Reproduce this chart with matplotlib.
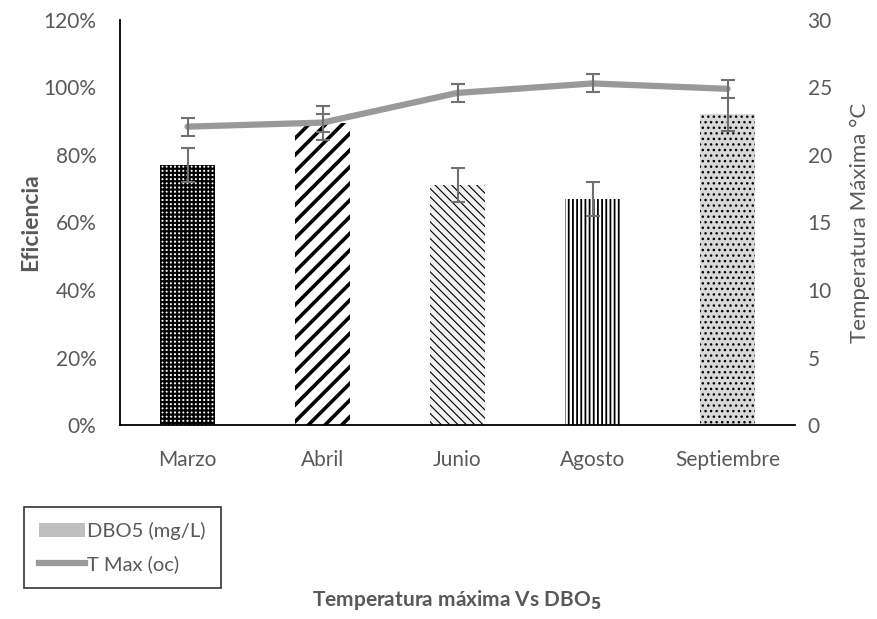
import numpy as np
import matplotlib
matplotlib.use("Agg")
import matplotlib.pyplot as plt
from matplotlib.patches import Patch
from matplotlib.lines import Line2D

meses = ["Marzo", "Abril", "Junio", "Agosto", "Septiembre"]
eficiencia = [77, 89.5, 71, 67, 92]          # %
err_eficiencia = [5, 5, 5, 5, 5]
t_max = [22.1, 22.4, 24.6, 25.3, 24.9]      # grados C
err_t_max = [0.67, 0.67, 0.67, 0.67, 0.67]

hatches = ["++++", "//", "\\\\\\\\", "||||", "..."]
faces = ["white", "white", "#f2f2f2", "white", "#d9d9d9"]
hatch_lw = [1.6, 2.6, 0.8, 1.3, 1.0]

plt.rcParams['font.family'] = ['Lato', 'DejaVu Sans']
gris = "#595959"

fig = plt.figure(figsize=(8.78, 6.19), dpi=100)
ax = fig.add_axes([0.1367, 0.3134, 0.9055 - 0.1367, 0.9677 - 0.3134])
x = np.arange(len(meses))

for i in range(len(meses)):
    b = ax.bar(x[i], eficiencia[i], width=0.41, color=faces[i], hatch=hatches[i],
               edgecolor="black", linewidth=0, zorder=2)
    for p in b:
        p.set_hatch_linewidth(hatch_lw[i])
ax.errorbar(x, eficiencia, yerr=err_eficiencia, fmt="none", ecolor="#707070",
            elinewidth=1.5, capsize=5, capthick=1.5, zorder=3)

ax.set_xlim(-0.5, 4.5)
ax.set_ylim(0, 120)
ax.set_yticks(np.arange(0, 121, 20))
ax.set_yticklabels([f"{v}%" for v in range(0, 121, 20)])
ax.set_xticks(x)
ax.set_xticklabels(meses)
ax.tick_params(axis="x", length=0, labelsize=15, colors=gris, pad=18)
ax.tick_params(axis="y", length=0, labelsize=15, colors=gris, pad=17)
ax.spines["top"].set_visible(False)
ax.spines["right"].set_visible(False)
ax.spines["left"].set_linewidth(1.3)
ax.spines["bottom"].set_linewidth(1.3)
ax.set_ylabel("Eficiencia", fontsize=16.5, fontweight="bold", color=gris, labelpad=2)

ax2 = ax.twinx()
ax2.plot(x, t_max, color="#999999", linewidth=4.5, solid_capstyle="round", zorder=3)
ax2.errorbar(x, t_max, yerr=err_t_max, fmt="none", ecolor="#707070",
             elinewidth=1.5, capsize=5, capthick=1.5, zorder=4)
ax2.set_ylim(0, 30)
ax2.set_yticks(np.arange(0, 31, 5))
ax2.tick_params(axis="y", length=0, labelsize=15, colors=gris, pad=9)
for s in ["top", "right", "left", "bottom"]:
    ax2.spines[s].set_visible(False)
ax2.set_ylabel("Temperatura Máxima °C", fontsize=16, color=gris, labelpad=13)

handles = [Patch(facecolor="#bfbfbf", edgecolor="none", label="DBO5 (mg/L)"),
           Line2D([0], [0], color="#999999", linewidth=4.5, label="T Max (oc)")]
leg = fig.legend(handles=handles, loc="lower left", bbox_to_anchor=(24 / 878, 1 - 588 / 619),
                 fontsize=14.5, frameon=True, fancybox=False, edgecolor="black",
                 handlelength=2.3, handletextpad=0.1, borderpad=0.75, labelspacing=0.75,
                 borderaxespad=0)
leg.get_frame().set_linewidth(1.2)
for t in leg.get_texts():
    t.set_color(gris)

fig.text(457 / 878, 1 - 600 / 619, "Temperatura máxima Vs DBO$_\\mathbf{5}$", ha="center", va="center",
         fontsize=15, fontweight="bold", color=gris)

fig.savefig("out.png", dpi=100)
